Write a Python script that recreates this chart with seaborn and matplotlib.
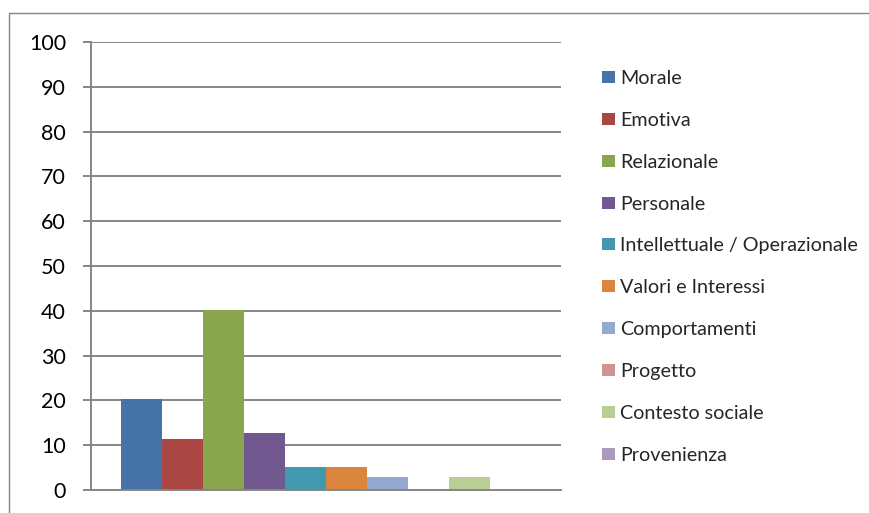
import matplotlib
matplotlib.use("Agg")
import matplotlib.pyplot as plt
import matplotlib.patches as mpatches
import pandas as pd
import seaborn as sns

# Series shown in the chart (percentages)
series = ["Morale", "Emotiva", "Relazionale", "Personale",
          "Intellettuale / Operazionale", "Valori e Interessi",
          "Comportamenti", "Progetto", "Contesto sociale", "Provenienza"]
values = [20.3, 11.4, 40.2, 12.7, 5.1, 5.1, 2.8, 0.0, 2.8, 0.0]
colors = ["#4572A7", "#AA4643", "#89A54E", "#71588F", "#4198AF",
          "#DB843D", "#93A9CF", "#D19392", "#B9CD96", "#A99BBD"]
yticks = [0, 10, 20, 30, 40, 50, 60, 70, 80, 90, 100]

df = pd.DataFrame({"cat": [""] * len(series), "serie": series, "val": values})

sns.set_style("white")
plt.rcParams["font.family"] = ["Lato", "DejaVu Sans"]

W, H = 869, 513
fig = plt.figure(figsize=(W / 100, H / 100), dpi=100)

# plot area in pixels: x 91..561, y 42..490
ax = fig.add_axes([91 / W, (H - 490) / H, (561 - 91) / W, (490 - 42) / H])

sns.barplot(data=df, x="cat", y="val", hue="serie", hue_order=series,
            palette=colors, saturation=1, width=0.872, dodge=True,
            linewidth=0, ax=ax, legend=True)

grid = "#868686"
ax.set_ylim(0, 100)
ax.set_xlim(-0.5, 0.5)
ax.set_yticks(yticks)
ax.set_yticklabels([str(t) for t in yticks], fontsize=15.5, color="black")
ax.set_xticks([])
ax.set_xlabel("")
ax.set_ylabel("")
ax.yaxis.grid(True, color=grid, linewidth=1.4)
ax.set_axisbelow(True)
for s in ["top", "right"]:
    ax.spines[s].set_visible(False)
for s in ["left", "bottom"]:
    ax.spines[s].set_color(grid)
    ax.spines[s].set_linewidth(1.4)
ax.tick_params(axis="y", direction="out", length=6, width=1.4,
               color=grid, pad=12, left=True)

# legend on the right
handles, labels = ax.get_legend_handles_labels()
ax.legend(handles, labels, loc="upper left",
          bbox_to_anchor=(602 / W, (H - 70) / H),
          bbox_transform=fig.transFigure, frameon=False,
          fontsize=14.2, handlelength=0.65, handleheight=0.55,
          handletextpad=0.28, labelspacing=1.26, borderpad=0,
          borderaxespad=0)

# chart frame
fig.patches.append(mpatches.Rectangle((9 / W, -0.1), 1.0, (H - 13) / H + 0.1,
                                      transform=fig.transFigure, fill=False,
                                      edgecolor=grid, linewidth=1.0))

fig.savefig("out.png", dpi=100)
